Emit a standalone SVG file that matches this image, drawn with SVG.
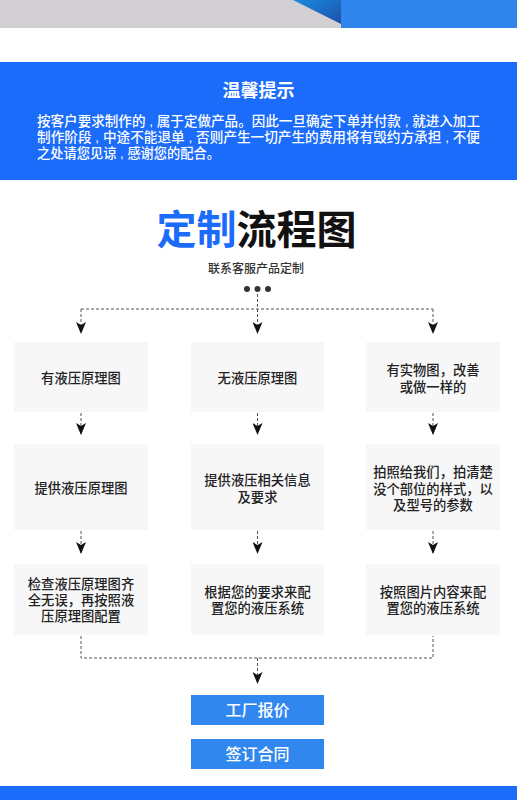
<svg xmlns="http://www.w3.org/2000/svg" width="517" height="800" viewBox="0 0 517 800">
<style>
.t{font-family:"Liberation Sans","Noto Sans CJK SC",sans-serif}
.box{fill:#f7f7f8}
.bt{font-size:13.3px;fill:#222;text-anchor:middle;font-weight:500}
.w{fill:#fff}
.dash{fill:none;stroke:#555;stroke-width:1;stroke-dasharray:3 2}
.btn{fill:#3088ee}
.btt{font-size:16px;fill:#fff;text-anchor:middle;font-weight:500}
</style>
<defs>
<marker id="ah" viewBox="0 0 12 10" refX="11" refY="5" markerWidth="12" markerHeight="10" markerUnits="userSpaceOnUse" orient="auto">
<path d="M0,0 L12,5 L0,10 L3,5 z" fill="#111"/>
</marker>
<linearGradient id="fold" x1="0" y1="0" x2="1" y2="1">
<stop offset="0" stop-color="#1a8ae0"/>
<stop offset="1" stop-color="#1d4fa8"/>
</linearGradient>
</defs>
<rect width="517" height="800" fill="#fff"/>
<!-- top banner -->
<rect x="0" y="0" width="517" height="28" fill="#d3d0d3"/>
<rect x="341" y="0" width="176" height="28" fill="#3085ec"/>
<path d="M293,0 L341,0 L341,24 z" fill="url(#fold)"/>
<!-- notice -->
<rect x="0" y="62" width="517" height="118" fill="#1b6cfb"/>
<text class="t w" x="258.5" y="97" font-size="18" font-weight="bold" text-anchor="middle">温馨提示</text>
<text class="t" font-size="13.3" fill="#fff" font-weight="500"><tspan x="37" y="126" textLength="443" lengthAdjust="spacingAndGlyphs">按客户要求制作的 , 属于定做产品。因此一旦确定下单并付款 , 就进入加工</tspan><tspan x="37" y="142" textLength="443" lengthAdjust="spacingAndGlyphs">制作阶段 , 中途不能退单 , 否则产生一切产生的费用将有毁约方承担 , 不便</tspan><tspan x="37" y="158" textLength="183" lengthAdjust="spacingAndGlyphs">之处请您见谅 , 感谢您的配合。</tspan></text>
<!-- title -->
<text class="t" x="256.5" y="244" font-size="40" font-weight="bold" text-anchor="middle"><tspan fill="#1b6cfb">定制</tspan><tspan fill="#111">流程图</tspan></text>
<text class="t" x="256" y="273" font-size="12" fill="#333" text-anchor="middle" font-weight="500">联系客服产品定制</text>
<circle cx="247" cy="289" r="3" fill="#333"/>
<circle cx="257.5" cy="289" r="3" fill="#333"/>
<circle cx="268" cy="289" r="3" fill="#333"/>
<!-- connectors -->
<g id="connectors">
<path class="dash" d="M257.5,294 V309 M81,309 H433"/>
<path class="dash" d="M81,309 V333" marker-end="url(#ah)"/>
<path class="dash" d="M257.5,309 V333" marker-end="url(#ah)"/>
<path class="dash" d="M433,309 V333" marker-end="url(#ah)"/>
<path class="dash" d="M81,413 V434" marker-end="url(#ah)"/>
<path class="dash" d="M257.5,413 V434" marker-end="url(#ah)"/>
<path class="dash" d="M433,413 V434" marker-end="url(#ah)"/>
<path class="dash" d="M81,531 V553" marker-end="url(#ah)"/>
<path class="dash" d="M257.5,531 V553" marker-end="url(#ah)"/>
<path class="dash" d="M433,531 V553" marker-end="url(#ah)"/>
<path class="dash" d="M81,636 V658 H433 V636"/>
<path class="dash" d="M257.5,658 V683" marker-end="url(#ah)"/>
</g>
<!-- row 1 -->
<g id="n1a"><rect class="box" x="14" y="342" width="134" height="70"/><text class="t bt" x="81" y="383">有液压原理图</text></g>
<g id="n1b"><rect class="box" x="191" y="342" width="133" height="70"/><text class="t bt" x="257.5" y="383">无液压原理图</text></g>
<g id="n1c"><rect class="box" x="366" y="342" width="134" height="70"/><text class="t bt"><tspan x="433" y="375">有实物图，改善</tspan><tspan x="433" y="392">或做一样的</tspan></text></g>
<!-- row 2 -->
<g id="n2a"><rect class="box" x="14" y="444" width="134" height="86"/><text class="t bt" x="81" y="493">提供液压原理图</text></g>
<g id="n2b"><rect class="box" x="191" y="444" width="133" height="86"/><text class="t bt"><tspan x="257.5" y="485">提供液压相关信息</tspan><tspan x="257.5" y="502">及要求</tspan></text></g>
<g id="n2c"><rect class="box" x="366" y="444" width="134" height="86"/><text class="t bt"><tspan x="433" y="477">拍照给我们，拍清楚</tspan><tspan x="433" y="494">没个部位的样式，以</tspan><tspan x="433" y="510">及型号的参数</tspan></text></g>
<!-- row 3 -->
<g id="n3a"><rect class="box" x="14" y="564" width="134" height="71"/><text class="t bt"><tspan x="81" y="589">检查液压原理图齐</tspan><tspan x="81" y="605">全无误，再按照液</tspan><tspan x="81" y="621">压原理图配置</tspan></text></g>
<g id="n3b"><rect class="box" x="191" y="564" width="133" height="71"/><text class="t bt"><tspan x="257.5" y="597">根据您的要求来配</tspan><tspan x="257.5" y="613">置您的液压系统</tspan></text></g>
<g id="n3c"><rect class="box" x="366" y="564" width="134" height="71"/><text class="t bt"><tspan x="433" y="597">按照图片内容来配</tspan><tspan x="433" y="613">置您的液压系统</tspan></text></g>
<!-- buttons -->
<g id="quote"><rect class="btn" x="191" y="695" width="133" height="30"/><text class="t btt" x="257.5" y="716">工厂报价</text></g>
<g id="sign"><rect class="btn" x="191" y="739" width="133" height="30"/><text class="t btt" x="257.5" y="760">签订合同</text></g>
<rect x="0" y="786" width="517" height="14" fill="#1b6cfb"/>
</svg>
